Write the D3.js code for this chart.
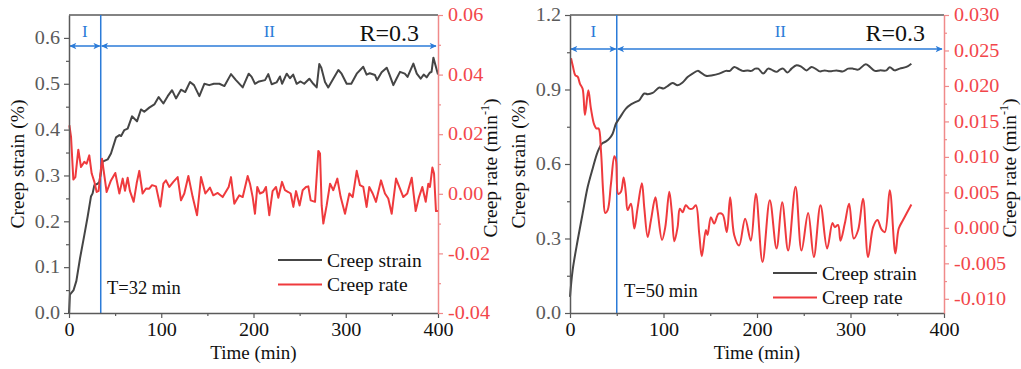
<!DOCTYPE html>
<html>
<head>
<meta charset="utf-8">
<title>Creep strain and creep rate</title>
<style>
  body { margin: 0; background: #fff; }
  svg { display: block; font-family: "Liberation Serif", "Times New Roman", serif; }
  svg text { font-family: "Liberation Serif", "Times New Roman", serif; }
</style>
</head>
<body>
<div id="chart"></div>
<script src="https://cdn.jsdelivr.net/npm/d3@7"></script>
<script>
// [time (min), value]
var strainA = [[0,0],[1,0.04],[5,0.05],[8,0.07],[12,0.12],[16.6,0.17],[20.2,0.21],[23.8,0.254],[25.6,0.261],
  [27.5,0.279],[31,0.282],[32.9,0.286],[36.5,0.33],[41.9,0.335],[45.5,0.348],[51,0.383],[54.6,0.388],[56.5,0.386],
  [60,0.399],[63.6,0.402],[68.3,0.429],[73.7,0.418],[78,0.444],[81.6,0.439],[87,0.448],[92.5,0.455],[97.2,0.471],
  [102.3,0.457],[107,0.473],[111.7,0.486],[116,0.468],[121.4,0.487],[126,0.482],[131.2,0.504],[135.5,0.497],
  [141.3,0.473],[146.7,0.5],[152,0.497],[157,0.5],[163,0.5],[168.5,0.495],[175.6,0.521],[181,0.508],[188.3,0.492],
  [194.8,0.522],[198,0.515],[201.6,0.5],[206,0.505],[212.5,0.508],[216,0.521],[219.7,0.499],[225,0.503],[228.7,0.516],
  [231,0.5],[236,0.522],[239.5,0.512],[243,0.52],[246.8,0.5],[251,0.505],[255,0.5],[260.5,0.511],[264.8,0.5],
  [268.5,0.492],[271.3,0.543],[273.5,0.535],[277.5,0.504],[281,0.492],[285.7,0.508],[292,0.53],[295.5,0.522],
  [301,0.5],[306,0.5],[311.9,0.522],[319,0.537],[322.6,0.52],[326,0.523],[331.7,0.519],[334,0.508],[338.9,0.525],
  [344.4,0.535],[347,0.522],[351.6,0.497],[355,0.511],[358.8,0.526],[364,0.522],[367,0.515],[373.3,0.544],
  [377,0.522],[381.2,0.511],[384.5,0.52],[387.7,0.514],[391,0.524],[393,0.526],[395,0.557],[398,0.535],[400,0.52]];

var rateA = [[0.4,0.023],[2.2,0.0191],[4.7,0.0048],[6.9,0.0056],[10.1,0.0148],[13,0.009],[16.6,0.0107],[19.1,0.0101],
  [22,0.0129],[24.6,0.0068],[27.5,0.004],[30,0.0006],[32.1,0.001],[35.8,0.0118],[38.3,0.0062],[40.8,0.0006],
  [45.5,0.0045],[50.2,0.007],[54.6,0.0001],[58.2,0.0051],[60.7,0.001],[63.6,0.0054],[66,0.001],[70.1,-0.0027],
  [73.4,0.0036],[76.2,0.0077],[79.8,0.0001],[83.5,0.0018],[87,0.0017],[90,0.0029],[94.3,0.0025],[99,-0.0043],
  [102.3,0.0034],[105.1,0.0045],[108.8,0.0023],[113.1,0.004],[117.8,0.0056],[121.4,-0.0022],[125,0.0001],
  [129.4,0.006],[134.1,-0.0011],[138.8,-0.0072],[143.1,0.0056],[147.8,0.0001],[152.8,0.0021],[156.4,-0.0005],
  [161.2,0.0003],[166.6,-0.0011],[173.1,0.0023],[175.6,0.0056],[179.2,-0.0033],[184.6,-0.0005],[188.3,-0.0011],
  [193.7,0.006],[196.2,0.0034],[199.1,-0.0011],[201.6,-0.0067],[204.1,0.0023],[207,0.0001],[210.6,0.0006],
  [213.5,0.0023],[217.1,-0.0072],[220.7,0.0009],[224.4,0.0023],[226.9,-0.0013],[230.9,0.004],[234.1,0.0012],
  [237.7,0.0006],[240.3,0.0001],[243.2,-0.0044],[246.1,0.0009],[250,-0.0039],[253.3,0.0012],[256.9,0.0023],
  [259.4,0.0025],[262,-0.0022],[266.7,-0.0027],[270.3,0.0144],[272.1,0.0135],[273.9,-0.0039],[275.7,-0.01],
  [279.3,-0.0039],[283,0.0034],[286.5,0.0012],[290.9,0.0051],[294.5,-0.0011],[299.2,-0.0067],[303.9,0.0001],
  [307.5,-0.0011],[311.9,0.0077],[315.4,0.0029],[319,0.0023],[322.6,-0.0044],[325.5,0.0023],[329.2,0.0001],
  [332.8,-0.0027],[338.2,0.0045],[342.5,0.0001],[346.1,-0.0016],[349.8,-0.0067],[354.5,0.0051],[358.8,0.0017],
  [362.4,-0.0011],[366.7,0.0001],[371.5,0.0054],[375.8,-0.0058],[379.4,-0.0011],[383,0.0023],[386.7,-0.0027],
  [389.5,0.0034],[391.3,0.0023],[393.9,0.0088],[395.7,0.0068],[397.8,-0.0058],[400,-0.0058]];

var strainB = [[0,0.065],[2.8,0.172],[8.2,0.293],[13.5,0.4],[18.9,0.507],[24.2,0.581],[29.5,0.648],[34.2,0.682],
  [38.5,0.691],[42,0.702],[45.6,0.722],[49.2,0.763],[52.7,0.783],[59.8,0.823],[65.2,0.84],[70.5,0.85],[74.1,0.857],
  [79.4,0.884],[83.1,0.881],[88.4,0.886],[95.5,0.908],[99.9,0.904],[104.4,0.914],[109.7,0.926],[115.1,0.917],
  [120.4,0.928],[125.8,0.95],[131.1,0.964],[136.5,0.975],[140,0.968],[145.3,0.955],[152.5,0.957],[159.6,0.964],
  [166.7,0.975],[171,0.975],[175.6,0.991],[181,0.981],[184.5,0.975],[189.9,0.977],[194,0.975],[198,0.984],
  [201.3,0.984],[206.6,0.964],[211.9,0.984],[215.4,0.98],[220.9,0.971],[224.4,0.98],[228,0.984],[232.6,0.968],
  [236.9,0.984],[242.3,0.998],[247.6,0.991],[253,0.977],[258.3,0.991],[263.6,0.981],[267.2,0.973],[272.5,0.977],
  [277.8,0.973],[285,0.977],[292.1,0.973],[297.5,0.984],[302.8,0.984],[308.2,0.98],[316.3,1.002],[320.7,0.991],
  [326,0.975],[331.3,0.977],[338.4,0.977],[342,0.99],[347.3,0.977],[352.7,0.984],[359.8,0.991],[365.1,1.004]];

var rateB = [[1.1,0.0239],[3.2,0.0227],[5.7,0.0215],[8.2,0.0213],[10.7,0.0203],[13.5,0.0196],[16,0.0159],
  [19.6,0.0194],[22.4,0.0168],[26,0.0145],[28.3,0.014],[30.6,0.014],[33.1,0.0109],[35.6,0.0048],[37.7,0.0021],
  [40.3,0.0025],[43.8,0.0062],[47.4,0.0101],[49.2,0.0095],[51.6,0.0048],[54.5,0.0051],[57.4,0.0071],[59.8,0.0048],
  [61.6,0.0025],[65.2,0.0034],[68.8,-0.0001],[72.2,0.0027],[76.9,0.0063],[79.4,0.0029],[83.1,-0.0013],[86.6,0.0011],
  [91.3,0.0043],[93.6,0.0025],[98.4,-0.0017],[101.9,0.0001],[106.2,0.0051],[109,0.002],[111.6,-0.0019],
  [115.1,0.0001],[117.5,0.0027],[120.4,0.0022],[123.9,0.0032],[127.5,0.0027],[131.1,0.0027],[134.6,0.0032],
  [138.2,-0.0008],[141,-0.004],[145.3,-0.0003],[147.1,-0.001],[150.7,0.0015],[154.2,0.0006],[158.9,0.002],
  [163.2,0.0019],[167.7,-0.0006],[171.3,0.0043],[175.6,-0.001],[180.9,-0.0025],[187.3,0.0013],[193.4,-0.0018],
  [198.8,0.0048],[205.9,-0.0048],[213.7,0.0039],[220.9,-0.0029],[226.9,0.0036],[233.3,-0.0032],[241.2,0.0058],
  [247.6,-0.0032],[254.7,0.0021],[260.8,-0.0041],[267.9,0.0032],[275,-0.0029],[280.7,0.0007],[283.2,0.0001],
  [286.7,0.0004],[289.3,-0.0018],[293.9,0.0006],[298.5,0.0034],[303.5,-0.0015],[308.2,-0.0003],[313.4,0.0041],
  [318.8,-0.0041],[324.2,0.0001],[328.8,0.0011],[333.1,-0.0002],[336.7,-0.0006],[342,0.0053],[348,-0.0036],
  [351.6,-0.0001],[356.2,0.0011],[365.1,0.0033]];

var timeTicks = [0, 100, 200, 300, 400];
var strainTicksA = [0, 0.1, 0.2, 0.3, 0.4, 0.5, 0.6];
var strainTicksB = [0, 0.3, 0.6, 0.9, 1.2];
var rateTicksA = [-0.04, -0.02, 0, 0.02, 0.04, 0.06];
var rateTicksB = [-0.01, -0.005, 0, 0.005, 0.01, 0.015, 0.02, 0.025, 0.03];
var transitionT = [34.4, 50];
var transitionLabels = ["T=32 min", "T=50 min"];
var ratioLabels = ["R=0.3", "R=0.3"];
var stageLabels = ["I", "II"];
var seriesNames = ["Creep strain", "Creep rate"];

var width = 1021, height = 369;
var plotTop = 15, plotBottom = 313;
var grey = "#5a5a5a", red = "#f2464a", redAxis = "#f08a8a", blue = "#2b7bd8";
var strainColor = "#454545", rateColor = "#ef3a3d";
var stretch = 1.12; // tick labels in the source are a bit wider than Times

var panels = [
  {left: 69, right: 438, strain: strainA, rate: rateA, sDom: [0, 0.65], rDom: [-0.04, 0.06],
   sTicks: strainTicksA, rTicks: rateTicksA, sFmt: ".1f", rFmt: ".2f", curve: d3.curveLinear,
   arrowY: 46, stageY: 37, legX: 278, legY: 260, noteX: 107, noteY: 294, sTitleX: 24, rTitleX: 497},
  {left: 570, right: 944, strain: strainB, rate: rateB, sDom: [0, 1.2], rDom: [-0.012, 0.03],
   sTicks: strainTicksB, rTicks: rateTicksB, sFmt: ".1f", rFmt: ".3f", curve: d3.curveCatmullRom,
   arrowY: 49, stageY: 37, legX: 773, legY: 273, noteX: 624, noteY: 297, sTitleX: 525, rTitleX: 1016}
];

var svg = d3.select("#chart").append("svg")
  .attr("width", width)
  .attr("height", height);

var defs = svg.append("defs");
defs.append("marker")
  .attr("id", "head")
  .attr("viewBox", "0 -5 10 10")
  .attr("refX", 9).attr("refY", 0)
  .attr("markerWidth", 9).attr("markerHeight", 7)
  .attr("markerUnits", "userSpaceOnUse")
  .attr("orient", "auto-start-reverse")
  .append("path")
  .attr("d", "M0,-4.5L10,0L0,4.5L2.5,0Z")
  .attr("fill", blue);

function minorOf(ticks) {
  var out = [];
  for (var i = 0; i < ticks.length - 1; i++) out.push((ticks[i] + ticks[i + 1]) / 2);
  return out;
}
function hyphen(f) {
  var fmt = d3.format(f);
  return function(d) { return fmt(d).replace("\u2212", "-"); };
}

panels.forEach(function(p, i) {
  var x = d3.scaleLinear().domain([0, 400]).range([p.left, p.right]);
  var yS = d3.scaleLinear().domain(p.sDom).range([plotBottom, plotTop]);
  var yR = d3.scaleLinear().domain(p.rDom).range([plotBottom, plotTop]);
  var g = svg.append("g");

  // top frame line
  g.append("line")
    .attr("x1", p.left).attr("x2", p.right)
    .attr("y1", plotTop).attr("y2", plotTop)
    .attr("stroke", grey).attr("stroke-width", 1.5);

  // stage boundary
  g.append("line")
    .attr("x1", x(transitionT[i])).attr("x2", x(transitionT[i]))
    .attr("y1", plotTop).attr("y2", plotBottom)
    .attr("stroke", blue).attr("stroke-width", 1.5);

  // stage arrows
  [[0, transitionT[i]], [transitionT[i], 400]].forEach(function(seg) {
    g.append("line")
      .attr("x1", x(seg[0]) + 1).attr("x2", x(seg[1]) - (seg[1] === 400 ? 2 : 1))
      .attr("y1", p.arrowY).attr("y2", p.arrowY)
      .attr("stroke", blue).attr("stroke-width", 1.5)
      .attr("marker-start", "url(#head)")
      .attr("marker-end", "url(#head)");
  });
  g.append("text")
    .attr("x", x(transitionT[i] / 2)).attr("y", p.stageY)
    .attr("text-anchor", "middle").attr("font-size", 17).attr("fill", blue)
    .text(stageLabels[0]);
  g.append("text")
    .attr("x", x((transitionT[i] + 400) / 2)).attr("y", p.stageY)
    .attr("text-anchor", "middle").attr("font-size", 17).attr("fill", blue)
    .text(stageLabels[1]);

  g.append("text")
    .attr("x", p.right - 19).attr("y", 40.5)
    .attr("text-anchor", "end").attr("font-size", 24).attr("fill", "#111")
    .text(ratioLabels[i]);

  g.append("text")
    .attr("x", p.noteX).attr("y", p.noteY)
    .attr("font-size", 18.5).attr("fill", "#111")
    .text(transitionLabels[i]);

  // series
  g.append("path")
    .datum(p.strain)
    .attr("fill", "none").attr("stroke", strainColor).attr("stroke-width", 2)
    .attr("stroke-linejoin", "round")
    .attr("d", d3.line().curve(p.curve).x(function(d) { return x(d[0]); }).y(function(d) { return yS(d[1]); }));
  g.append("path")
    .datum(p.rate)
    .attr("fill", "none").attr("stroke", rateColor).attr("stroke-width", 2)
    .attr("stroke-linejoin", "round")
    .attr("d", d3.line().curve(p.curve).x(function(d) { return x(d[0]); }).y(function(d) { return yR(d[1]); }));

  // axes
  var ax = g.append("g").attr("transform", "translate(0," + plotBottom + ")")
    .call(d3.axisBottom(x).tickValues(timeTicks).tickSize(5).tickSizeOuter(0).tickPadding(5).tickFormat(d3.format("d")));
  var axm = g.append("g").attr("transform", "translate(0," + plotBottom + ")")
    .call(d3.axisBottom(x).tickValues(minorOf(timeTicks)).tickSize(3).tickFormat(""))
    .call(function(s) { s.select(".domain").remove(); });

  var al = g.append("g").attr("transform", "translate(" + p.left + ",0)")
    .call(d3.axisLeft(yS).tickValues(p.sTicks).tickSize(5).tickSizeOuter(0).tickPadding(4).tickFormat(d3.format(p.sFmt)));
  var alm = g.append("g").attr("transform", "translate(" + p.left + ",0)")
    .call(d3.axisLeft(yS).tickValues(minorOf(p.sTicks)).tickSize(3).tickFormat(""))
    .call(function(s) { s.select(".domain").remove(); });

  var ar = g.append("g").attr("transform", "translate(" + p.right + ",0)")
    .call(d3.axisRight(yR).tickValues(p.rTicks).tickSize(5).tickSizeOuter(0).tickPadding(5).tickFormat(hyphen(p.rFmt)));
  var arm = g.append("g").attr("transform", "translate(" + p.right + ",0)")
    .call(d3.axisRight(yR).tickValues(minorOf(p.rTicks)).tickSize(3).tickFormat(""))
    .call(function(s) { s.select(".domain").remove(); });

  [ax, al, ar].forEach(function(a) {
    a.attr("font-family", null);
    a.selectAll(".tick text")
      .attr("font-size", 18)
      .each(function() {
        var t = d3.select(this);
        var tx = +t.attr("x") || 0;
        t.attr("x", tx / stretch).attr("transform", "scale(" + stretch + ",1)");
      });
  });
  [ax, axm, al, alm].forEach(function(a) {
    a.selectAll(".tick line").attr("stroke", grey).attr("stroke-width", 1.2);
    a.select(".domain").attr("stroke", grey).attr("stroke-width", 1.5);
  });
  [ar, arm].forEach(function(a) {
    a.selectAll(".tick line").attr("stroke", redAxis).attr("stroke-width", 1.2);
    a.select(".domain").attr("stroke", redAxis).attr("stroke-width", 1.5);
  });
  ax.selectAll(".tick text").attr("fill", "#111");
  al.selectAll(".tick text").attr("fill", grey);
  ar.selectAll(".tick text").attr("fill", red);

  // titles
  g.append("text")
    .attr("x", (p.left + p.right) / 2).attr("y", 359)
    .attr("text-anchor", "middle").attr("font-size", 19).attr("fill", "#111")
    .text("Time (min)");
  g.append("text")
    .attr("transform", "translate(" + p.sTitleX + "," + ((plotTop + plotBottom) / 2) + ") rotate(-90)")
    .attr("text-anchor", "middle").attr("font-size", 19.5).attr("fill", "#111")
    .text("Creep strain (%)");
  var rt = g.append("text")
    .attr("transform", "translate(" + p.rTitleX + "," + ((plotTop + plotBottom) / 2 + 4) + ") rotate(-90)")
    .attr("text-anchor", "middle").attr("font-size", 19.5).attr("fill", "#111");
  rt.append("tspan").text("Creep rate (min");
  rt.append("tspan").attr("dy", -8).attr("font-size", 12).text("-1");
  rt.append("tspan").attr("dy", 8).text(")");

  // legend
  [strainColor, rateColor].forEach(function(c, k) {
    var ly = p.legY + k * 24.5;
    g.append("line")
      .attr("x1", p.legX).attr("x2", p.legX + 44)
      .attr("y1", ly).attr("y2", ly)
      .attr("stroke", c).attr("stroke-width", 2);
    g.append("text")
      .attr("x", p.legX + 49).attr("y", ly + 6.5)
      .attr("font-size", 19.5).attr("fill", "#111")
      .text(seriesNames[k]);
  });
});
</script>
</body>
</html>
